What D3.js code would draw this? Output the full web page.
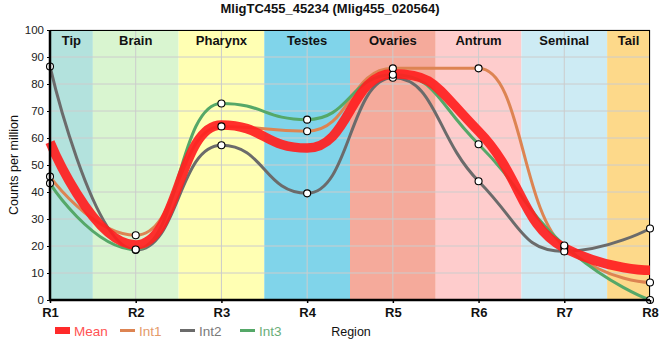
<!DOCTYPE html>
<html><head><meta charset="utf-8">
<script src="https://cdn.jsdelivr.net/npm/d3@7"></script>
<style>body{margin:0;background:#fff}svg{display:block;font-family:"Liberation Sans",Arial,sans-serif}</style>
</head><body><svg id="c" width="660" height="360"></svg>
<script>
const categories = ["R1","R2","R3","R4","R5","R6","R7","R8"];
const regions = ["Tip","Brain","Pharynx","Testes","Ovaries","Antrum","Seminal","Tail"];
const regionColors = ["#b3e2dd","#d9f5d0","#ffffb3","#80d4ea","#f5aa9b","#fecccc","#cdebf4","#fdd98a"];
const int1 = [45.7, 24.0, 64.3, 62.5, 85.8, 85.8, 19.6, 6.5];
const int2 = [86.5, 18.5, 57.3, 39.5, 82.3, 44.0, 18.0, 26.5];
const int3 = [43.2, 18.7, 72.8, 66.8, 83.4, 57.7, 20.2, 0.0];
const meanVals = int1.map((v,i)=>(v+int2[i]+int3[i])/3);
const yTicks = [0,10,20,30,40,50,60,70,80,90,100];
const series = [
  {name:"Int1", values:int1, color:"#dd8452", text:"#e59a69"},
  {name:"Int2", values:int2, color:"#6b6b6b", text:"#7a7a7a"},
  {name:"Int3", values:int3, color:"#55a868", text:"#6aae79"}
];

const svg = d3.select("#c");
const x = d3.scaleLinear().domain([1,8]).range([50,650]);
const y = d3.scaleLinear().domain([0,100]).range([300,30]);

// spline with smoothing control points (horizontal at local extrema)
function splinePath(vals){
  const pts = vals.map((v,i)=>({x:x(i+1), y:y(v)}));
  const sm = 1.0, den = sm + 1;
  for (let i=1;i<pts.length-1;i++){
    const p=pts[i], a=pts[i-1], b=pts[i+1];
    const lx=(sm*p.x+a.x)/den, rx=(sm*p.x+b.x)/den;
    let ly=(sm*p.y+a.y)/den, ry=(sm*p.y+b.y)/den;
    const corr=((ry-ly)*(rx-p.x))/(rx-lx)+p.y-ry;
    ly+=corr; ry+=corr;
    if (ly>a.y && ly>p.y){ ly=Math.max(a.y,p.y); ry=2*p.y-ly; }
    else if (ly<a.y && ly<p.y){ ly=Math.min(a.y,p.y); ry=2*p.y-ly; }
    if (ry>b.y && ry>p.y){ ry=Math.max(b.y,p.y); ly=2*p.y-ry; }
    else if (ry<b.y && ry<p.y){ ry=Math.min(b.y,p.y); ly=2*p.y-ry; }
    p.l={x:lx,y:ly}; p.r={x:rx,y:ry};
  }
  const path=d3.path();
  path.moveTo(pts[0].x,pts[0].y);
  for (let i=1;i<pts.length;i++){
    const c1=pts[i-1].r||pts[i-1], c2=pts[i].l||pts[i];
    path.bezierCurveTo(c1.x,c1.y,c2.x,c2.y,pts[i].x,pts[i].y);
  }
  return path.toString();
}

// region bands
regions.forEach((r,i)=>{
  const x0 = x(Math.max(1, i+0.5)), x1 = x(Math.min(8, i+1.5));
  svg.append("rect").attr("x",x0).attr("y",y(100)).attr("width",x1-x0).attr("height",y(0)-y(100)).attr("fill",regionColors[i]);
});
// grid
yTicks.forEach(t=>{
  svg.append("line").attr("x1",x(1)).attr("x2",x(8)).attr("y1",y(t)).attr("y2",y(t)).attr("stroke","#cccccc").attr("stroke-width",1);
});
categories.forEach((c,i)=>{
  svg.append("line").attr("x1",x(i+1)).attr("x2",x(i+1)).attr("y1",y(0)).attr("y2",y(100)).attr("stroke","#cccccc").attr("stroke-width",1);
});
// region labels
regions.forEach((r,i)=>{
  const x0 = x(Math.max(1, i+0.5)), x1 = x(Math.min(8, i+1.5));
  svg.append("text").attr("x",(x0+x1)/2).attr("y",45).attr("text-anchor","middle")
    .attr("font-size",13).attr("font-weight","bold").attr("fill","#111").text(r);
});
// border top/right
svg.append("line").attr("x1",x(1)).attr("x2",x(8)).attr("y1",y(100)+0.5).attr("y2",y(100)+0.5).attr("stroke","#000");
svg.append("line").attr("x1",x(8)-0.5).attr("x2",x(8)-0.5).attr("y1",y(100)).attr("y2",y(0)).attr("stroke","#000");

// lines
series.forEach(s=>{
  svg.append("path").attr("d",splinePath(s.values)).attr("fill","none").attr("stroke",s.color).attr("stroke-width",3);
});
svg.append("path").attr("d",splinePath(meanVals)).attr("fill","none").attr("stroke","#ff2020").attr("stroke-opacity",0.93).attr("stroke-width",9.5);
// points
series.forEach(s=>{
  svg.selectAll(null).data(s.values).enter().append("circle")
    .attr("cx",(d,i)=>x(i+1)).attr("cy",d=>y(d)).attr("r",3.5)
    .attr("fill","#fff").attr("stroke","#000").attr("stroke-width",1.1);
});

// axes
const yAxis = d3.axisLeft(y).tickValues(yTicks).tickSize(3).tickPadding(3);
const ya = svg.append("g").attr("transform","translate(50,0)").call(yAxis);
ya.select(".domain").remove();
ya.selectAll("text").attr("font-size",11.5).attr("fill","#222").attr("font-family","Liberation Sans, Arial");
ya.selectAll("line").attr("stroke","#000");
const xAxis = d3.axisBottom(x).tickValues([1,2,3,4,5,6,7,8]).tickFormat((d,i)=>categories[i]).tickSize(3).tickPadding(5);
const xa = svg.append("g").attr("transform","translate(0,300)").call(xAxis);
xa.select(".domain").remove();
xa.selectAll("text").attr("font-size",13).attr("font-weight","bold").attr("fill","#111").attr("font-family","Liberation Sans, Arial");
xa.selectAll("line").attr("stroke","#000").attr("stroke-width",1.5);
svg.append("line").attr("x1",x(1)).attr("x2",x(1)).attr("y1",y(100)).attr("y2",y(0)+1).attr("stroke","#000").attr("stroke-width",2.5);
svg.append("line").attr("x1",x(1)-1).attr("x2",x(8)).attr("y1",y(0)).attr("y2",y(0)).attr("stroke","#000").attr("stroke-width",2.5);

// titles
svg.append("text").attr("x",330).attr("y",13).attr("text-anchor","middle").attr("font-size",13).attr("font-weight","bold").attr("fill","#111").text("MligTC455_45234 (Mlig455_020564)");
svg.append("text").attr("transform","translate(18,165) rotate(-90)").attr("text-anchor","middle").attr("font-size",12.5).attr("fill","#111").text("Counts per million");
svg.append("text").attr("x",351).attr("y",336).attr("text-anchor","middle").attr("font-size",12.5).attr("fill","#111").text("Region");

// legend
const lg = svg.append("g");
lg.append("rect").attr("x",55).attr("y",327).attr("width",15).attr("height",7).attr("fill","#ff2a2a");
lg.append("text").attr("x",74).attr("y",335.5).attr("font-size",13.5).attr("fill","#ff5252").text("Mean");
series.forEach((s,i)=>{
  const lx = 120 + i*60;
  lg.append("line").attr("x1",lx).attr("x2",lx+15).attr("y1",330.5).attr("y2",330.5).attr("stroke",s.color).attr("stroke-width",3);
  lg.append("text").attr("x",lx+19).attr("y",335.5).attr("font-size",13.5).attr("fill",s.text).text(s.name);
});
</script></body></html>
